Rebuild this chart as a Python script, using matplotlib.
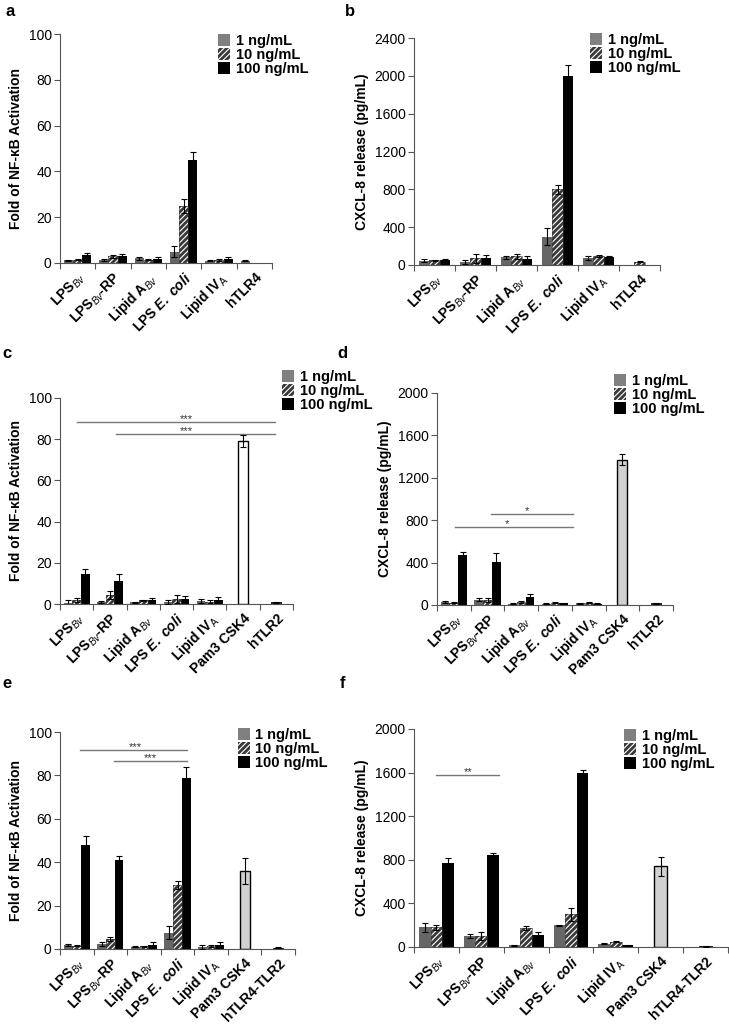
# Recreate six-panel NF-kB / CXCL-8 bar figure
import numpy as np
import matplotlib
matplotlib.use('Agg')
import matplotlib.pyplot as plt
from matplotlib.patches import Patch

nan = np.nan

plt.rcParams['font.family'] = ['Liberation Sans', 'DejaVu Sans']
plt.rcParams['mathtext.fontset'] = 'custom'
plt.rcParams['mathtext.it'] = 'Liberation Sans:italic'
plt.rcParams['mathtext.rm'] = 'Liberation Sans'
plt.rcParams['mathtext.bf'] = 'Liberation Sans:bold'
plt.rcParams['mathtext.bfit'] = 'Liberation Sans:italic:bold'
plt.rcParams['hatch.linewidth'] = 0.8

# Category labels
cats_a = ['LPS$_{Bv}$', 'LPS$_{Bv}$-RP', 'Lipid A$_{Bv}$', 'LPS $\\mathbfit{E.\\ coli}$',
          'Lipid IV$_{\\mathrm{A}}$', 'hTLR4']
cats_c = ['LPS$_{Bv}$', 'LPS$_{Bv}$-RP', 'Lipid A$_{Bv}$', 'LPS $\\mathbfit{E.\\ coli}$',
          'Lipid IV$_{\\mathrm{A}}$', 'Pam3 CSK4', 'hTLR2']
cats_e = ['LPS$_{Bv}$', 'LPS$_{Bv}$-RP', 'Lipid A$_{Bv}$', 'LPS $\\mathbfit{E.\\ coli}$',
          'Lipid IV$_{\\mathrm{A}}$', 'Pam3 CSK4', 'hTLR4-TLR2']
legend_labels = ['1 ng/mL', '10 ng/mL', '100 ng/mL']

# Panel a: NF-kB, hTLR4 cells
a1 = [1.2, 1.2, 2.0, 5.0, 1.0, 1.0]
a1_err = [0.3, 0.5, 0.5, 2.5, 0.3, 0.2]
a10 = [1.5, 3.0, 1.5, 25.0, 1.2, nan]
a10_err = [0.3, 0.6, 0.4, 3.0, 0.4, nan]
a100 = [3.3, 3.0, 1.8, 45.0, 1.8, nan]
a100_err = [1.2, 1.0, 0.8, 3.5, 0.8, nan]

# Panel b: CXCL-8, hTLR4 cells
b1 = [45, 30, 80, 300, 70, nan]
b1_err = [15, 20, 15, 90, 20, nan]
b10 = [50, 70, 90, 800, 95, 35]
b10_err = [8, 45, 30, 45, 10, 5]
b100 = [55, 70, 60, 2000, 85, nan]
b100_err = [8, 35, 30, 110, 10, nan]

# Panel c: NF-kB, hTLR2 cells (last two categories are single bars)
c1 = [0.5, 1.0, 0.8, 1.0, 1.5]
c1_err = [1.2, 0.3, 0.2, 1.0, 1.0]
c10 = [2.0, 4.5, 1.8, 2.5, 1.2]
c10_err = [1.0, 2.0, 0.3, 2.0, 0.5]
c100 = [14.5, 11.2, 2.0, 2.5, 2.0]
c100_err = [2.5, 3.3, 1.0, 1.2, 1.2]
c_single = [79, 0.8]
c_single_err = [3, 0.1]

# Panel d: CXCL-8, hTLR2 cells
d1 = [30, 50, 10, 10, 15]
d1_err = [10, 15, 5, 5, 5]
d10 = [20, 50, 30, 20, 20]
d10_err = [5, 20, 10, 5, 5]
d100 = [470, 410, 75, 15, 10]
d100_err = [30, 80, 30, 5, 5]
d_single = [1370, 15]
d_single_err = [50, 5]

# Panel e: NF-kB, hTLR4-TLR2 cells
e1 = [2.0, 2.2, 1.0, 7.5, 1.0]
e1_err = [0.5, 1.0, 0.3, 3.0, 0.8]
e10 = [1.5, 4.5, 1.2, 29.5, 1.5]
e10_err = [0.3, 0.8, 0.3, 2.0, 0.5]
e100 = [48, 41, 2.0, 79, 2.0]
e100_err = [4, 2, 1, 5, 1]
e_single = [36, 0.6]
e_single_err = [6, 0.2]

# Panel f: CXCL-8, hTLR4-TLR2 cells
f1 = [180, 100, 15, 200, 30]
f1_err = [40, 20, 5, 5, 5]
f10 = [180, 100, 175, 300, 50]
f10_err = [20, 35, 15, 60, 5]
f100 = [770, 840, 110, 1600, 15]
f100_err = [50, 20, 30, 25, 5]
f_single = [740, 5]
f_single_err = [85, 3]

# Significance bars: (x start, x end, y, stars, star x)
sig_c = [(0.0, 5.97, 88.2, '***', 3.3), (1.19, 5.97, 82.7, '***', 3.3)]
sig_d = [(0.04, 3.54, 734, '*', 1.57), (1.11, 3.54, 860, '*', 2.18)]
sig_e = [(0.1, 3.27, 91.9, '***', 1.73), (1.12, 3.27, 86.8, '***', 2.18)]
sig_f = [(0.0, 1.39, 1577, '**', 0.7)]

W, H = 729, 1025
fig = plt.figure(figsize=(W / 100, H / 100), dpi=100)

C1 = '#666666'
C10 = '#3a3a3a'
C100 = '#000000'
BW = 0.26


def add_ax(l, r, t, b):
    return fig.add_axes([l / W, 1 - b / H, (r - l) / W, (b - t) / H])


def errs(ax, x, y, e):
    ax.errorbar(x, y, yerr=e, fmt='none', ecolor='black', elinewidth=0.8,
                capsize=2.5, capthick=0.8, zorder=4)


def panel(ax, cats, s1, e1_, s10, e10_, s100, e100_, ymax, ystep, ylabel,
          single=None, single_err=None, single_color='white', sig=None):
    n = len(cats)
    x = np.arange(len(s1))
    ax.bar(x - BW, s1, BW, color=C1, linewidth=0, zorder=2)
    ax.bar(x, s10, BW, color=C10, edgecolor='white', hatch='//////',
           linewidth=0, zorder=2)
    ax.bar(x, s10, BW, fill=False, edgecolor=C10, linewidth=0.4, zorder=3)
    ax.bar(x + BW, s100, BW, color=C100, linewidth=0, zorder=2)
    errs(ax, x - BW, s1, e1_)
    errs(ax, x, s10, e10_)
    errs(ax, x + BW, s100, e100_)
    if single is not None:
        xs = np.arange(len(s1), n)
        ax.bar(xs[:1], single[:1], 0.3, color=single_color,
               edgecolor='black', linewidth=1.0, zorder=2)
        ax.bar(xs[1:], single[1:], 0.3, color=C10, edgecolor='black',
               linewidth=0.6, zorder=2)
        errs(ax, xs, single, single_err)
    if sig:
        for x0, x1, y, stars, xt in sig:
            ax.plot([x0, x1], [y, y], color='#777777', lw=1.0, zorder=1)
            ax.annotate(stars, (xt, y), xytext=(0, -1.5),
                        textcoords='offset points', ha='center', va='bottom',
                        fontsize=8, color='#333333')
    ax.set_xlim(-0.5, n - 0.5)
    ax.set_ylim(0, ymax)
    ax.set_yticks(np.arange(0, ymax + 1, ystep))
    ax.set_xticks(np.arange(n))
    ax.set_xticklabels(cats, rotation=45, ha='right', rotation_mode='anchor',
                       fontsize=10, fontweight='bold')
    ax.set_xticks(np.arange(n + 1) - 0.5, minor=True)
    ax.tick_params(axis='x', which='major', length=0, pad=5)
    ax.tick_params(axis='x', which='minor', length=4, width=0.8,
                   color='#555555', direction='out')
    ax.tick_params(axis='y', length=4, width=0.8, color='#555555',
                   labelsize=10, pad=2)
    for s in ['top', 'right']:
        ax.spines[s].set_visible(False)
    for s in ['left', 'bottom']:
        ax.spines[s].set_color('#555555')
        ax.spines[s].set_linewidth(0.8)
    ax.set_ylabel(ylabel, fontsize=10, fontweight='bold')


def legend(px, py):
    handles = [Patch(facecolor='#808080', linewidth=0),
               Patch(facecolor=C10, edgecolor='white', hatch='//////',
                     linewidth=0),
               Patch(facecolor='black', linewidth=0)]
    fig.legend(handles, legend_labels, loc='upper left',
               bbox_to_anchor=(px / W, 1 - py / H), frameon=False,
               prop={'size': 10.5, 'weight': 'bold'}, handlelength=0.8,
               handleheight=0.8, handletextpad=0.4, labelspacing=0.0,
               borderpad=0, borderaxespad=0)


nfkb = 'Fold of NF-\u03baB Activation'
cxcl = 'CXCL-8 release (pg/mL)'

ax_a = add_ax(60, 272, 34, 263)
panel(ax_a, cats_a, a1, a1_err, a10, a10_err, a100, a100_err, 100, 20, nfkb)
legend(218, 34)

ax_b = add_ax(414, 660, 38, 265)
panel(ax_b, cats_a, b1, b1_err, b10, b10_err, b100, b100_err, 2400, 400, cxcl)
legend(590, 33)

ax_c = add_ax(60, 293, 398, 604)
panel(ax_c, cats_c, c1, c1_err, c10, c10_err, c100, c100_err, 100, 20, nfkb,
      c_single, c_single_err, 'white', sig_c)
legend(282, 370)

ax_d = add_ax(437, 673, 393, 605)
panel(ax_d, cats_c, d1, d1_err, d10, d10_err, d100, d100_err, 2000, 400, cxcl,
      d_single, d_single_err, '#d0d0d0', sig_d)
legend(614, 374)

ax_e = add_ax(60, 295, 732, 949)
panel(ax_e, cats_e, e1, e1_err, e10, e10_err, e100, e100_err, 100, 20, nfkb,
      e_single, e_single_err, '#d0d0d0', sig_e)
legend(238, 728)

ax_f = add_ax(414, 728, 729, 947)
panel(ax_f, cats_e, f1, f1_err, f10, f10_err, f100, f100_err, 2000, 400, cxcl,
      f_single, f_single_err, '#d0d0d0', sig_f)
legend(624, 729)

# Panel letters
for letter, px, py in [('a', 10, 12), ('b', 350, 12), ('c', 7, 354),
                       ('d', 342, 354), ('e', 7, 684), ('f', 342, 684)]:
    fig.text(px / W, 1 - py / H, letter, fontsize=12, fontweight='bold',
             ha='center', va='center')

fig.savefig('out.png', dpi=100)
plt.close(fig)
print('Plot saved at: out.png')
